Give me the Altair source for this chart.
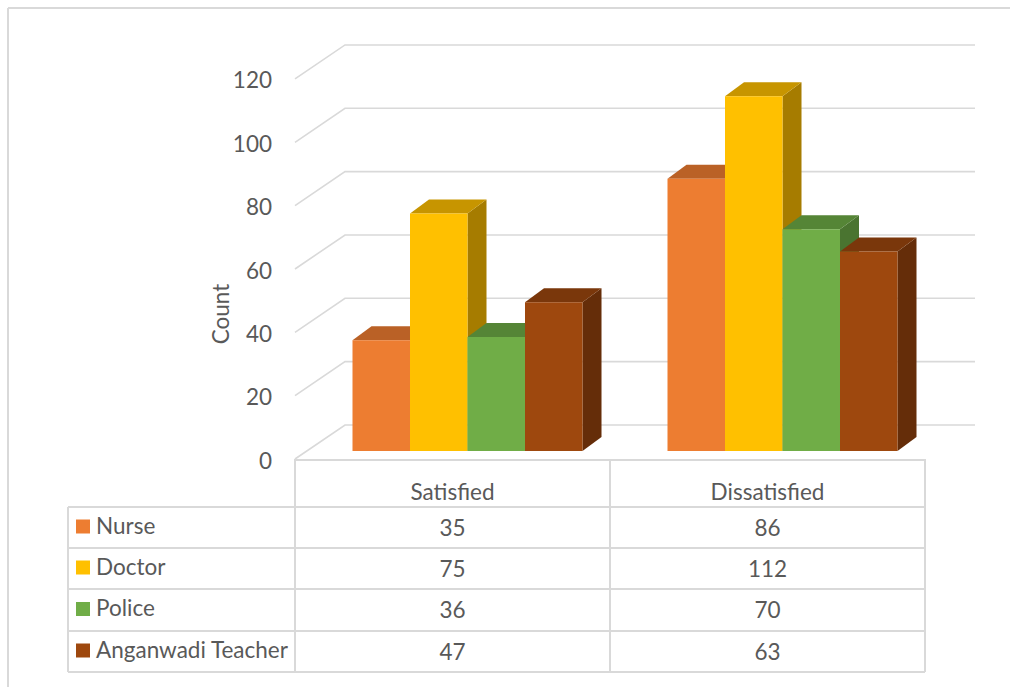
import altair as alt
import pandas as pd

# ---------------- data ----------------
categories = ["Satisfied", "Dissatisfied"]
series = ["Nurse", "Doctor", "Police", "Anganwadi Teacher"]
nurse = [35, 86]
doctor = [75, 112]
police = [36, 70]
anganwadi = [47, 63]
series_values = [nurse, doctor, police, anganwadi]
y_ticks = [0, 20, 40, 60, 80, 100, 120]

# ---------------- styles ----------------
front_colors = ["#ED7D31", "#FFC000", "#70AD47", "#9E480E"]
top_colors = ["#BA6126", "#C79500", "#558536", "#7A370B"]
side_colors = ["#9F5220", "#A67C00", "#4A7430", "#652D09"]
GRID = "#D9D9D9"
TEXT = "#595959"
FONT = "Lato"
FS = 22.5

# ---------------- layout (pixels) ----------------
W, H = 1010, 687
X0 = 295        # left edge of the first category column
COL = 315       # width of one category column
Y0 = 451        # pixel row of count 0 on the bar plane
PPC = 3.167     # pixels per count


def u(px):
    return (px - X0) / COL


def c(py):
    return (Y0 - py) / PPC


WALL_DU = u(345)            # depth shift of the back wall (x)
WALL_FRONT = c(459)         # front edge offset
WALL_BACK = c(425)          # back wall offset
BAR_DU = 19 / COL           # bar depth (x)
BAR_DC = 14 / PPC           # bar depth (y)
BAR_W = 57.5 / COL
GROUP_OFF = u(352.5)

xs = alt.Scale(domain=[u(0), u(W)], nice=False, zero=False)
ys = alt.Scale(domain=[c(H), c(0)], nice=False, zero=False)
X = lambda f: alt.X(f, type="quantitative", scale=xs, axis=None)
Y = lambda f: alt.Y(f, type="quantitative", scale=ys, axis=None)

# ---------------- bar geometry ----------------
fronts, tops, sides = [], [], []
for gi, cat in enumerate(categories):
    for si, name in enumerate(series):
        v = series_values[si][gi]
        x0 = gi + GROUP_OFF + si * BAR_W
        x1 = x0 + BAR_W
        bid = f"{cat}-{name}"
        fronts.append(dict(id=bid, x=x0, x2=x1, y=0, y2=v, fill=front_colors[si]))
        for xx, lo, hi in [(x0, v, v), (x0 + BAR_DU, v, v + BAR_DC),
                           (x1, v, v + BAR_DC), (x1 + BAR_DU, v + BAR_DC, v + BAR_DC)]:
            tops.append(dict(id=bid, x=xx, lo=lo, hi=hi, fill=top_colors[si]))
        for xx, lo, hi in [(x1, 0, v), (x1 + BAR_DU, BAR_DC, v + BAR_DC)]:
            sides.append(dict(id=bid, x=xx, lo=lo, hi=hi, fill=side_colors[si]))

front_df = pd.DataFrame(fronts)
top_df = pd.DataFrame(tops)
side_df = pd.DataFrame(sides)

side_layer = alt.Chart(side_df).mark_area(opacity=1).encode(
    x=X("x"), y=Y("lo"), y2="hi",
    color=alt.Color("fill:N", scale=None), detail="id:N")
top_layer = alt.Chart(top_df).mark_area(opacity=1).encode(
    x=X("x"), y=Y("lo"), y2="hi",
    color=alt.Color("fill:N", scale=None), detail="id:N")
front_layer = alt.Chart(front_df).mark_rect().encode(
    x=X("x"), x2="x2", y=Y("y"), y2="y2",
    color=alt.Color("fill:N", scale=None))

# ---------------- gridlines ----------------
grid_rows = []
for t in y_ticks:
    for k, (xx, yy) in enumerate([(0, t + WALL_FRONT), (WALL_DU, t + WALL_BACK),
                                  (2 + WALL_DU, t + WALL_BACK)]):
        grid_rows.append(dict(tick=t, k=k, x=xx, y=yy))
grid_layer = alt.Chart(pd.DataFrame(grid_rows)).mark_line(
    color=GRID, strokeWidth=1.6).encode(
    x=X("x"), y=Y("y"), detail="tick:N", order="k:Q")

# axis labels
lab_df = pd.DataFrame(dict(x=[u(272)] * len(y_ticks),
                           y=[t + WALL_FRONT - 0.8 for t in y_ticks],
                           t=[str(t) for t in y_ticks]))
lab_layer = alt.Chart(lab_df).mark_text(
    align="right", baseline="middle", font=FONT, fontSize=FS, color=TEXT).encode(
    x=X("x"), y=Y("y"), text="t:N")

title_layer = alt.Chart(pd.DataFrame(dict(x=[u(222)], y=[c(314)], t=["Count"]))).mark_text(
    angle=270, align="center", baseline="middle", font=FONT, fontSize=FS, color=TEXT).encode(
    x=X("x"), y=Y("y"), text="t:N")

# ---------------- frame ----------------
frame_df = pd.DataFrame([
    dict(x=u(8), x2=u(8), y=c(8), y2=c(H)),
    dict(x=u(8), x2=u(W), y=c(8), y2=c(8)),
])
frame_layer = alt.Chart(frame_df).mark_rule(color=GRID, strokeWidth=2).encode(
    x=X("x"), x2="x2", y=Y("y"), y2="y2")

# ---------------- data table ----------------
row_lines = [460, 507, 548, 589, 631, 672]
TL, TC1, TC2, TR = 68, 295, 610, 925
trules = [dict(x=u(TC1), x2=u(TR), y=c(row_lines[0]), y2=c(row_lines[0]))]
for ry in row_lines[1:]:
    trules.append(dict(x=u(TL), x2=u(TR), y=c(ry), y2=c(ry)))
trules.append(dict(x=u(TL), x2=u(TL), y=c(row_lines[1]), y2=c(row_lines[-1])))
for vx in [TC1, TC2, TR]:
    trules.append(dict(x=u(vx), x2=u(vx), y=c(row_lines[0] - 1), y2=c(row_lines[-1])))
table_rules = alt.Chart(pd.DataFrame(trules)).mark_rule(color=GRID, strokeWidth=2).encode(
    x=X("x"), x2="x2", y=Y("y"), y2="y2")

texts = []
for gi, cat in enumerate(categories):
    texts.append(dict(x=gi + 0.5, y=c(493), t=cat, a="center"))
row_centers = [(row_lines[i] + row_lines[i + 1]) / 2 for i in range(1, 5)]
for si, name in enumerate(series):
    for gi in range(len(categories)):
        texts.append(dict(x=gi + 0.5, y=c(row_centers[si] + 1), t=str(series_values[si][gi]), a="center"))
val_layer = alt.Chart(pd.DataFrame(texts)).mark_text(
    align="center", baseline="middle", font=FONT, fontSize=FS, color=TEXT).encode(
    x=X("x"), y=Y("y"), text="t:N")

name_df = pd.DataFrame(dict(x=[u(96)] * 4, y=[c(rc - 1) for rc in row_centers], t=series))
name_layer = alt.Chart(name_df).mark_text(
    align="left", baseline="middle", font=FONT, fontSize=FS, color=TEXT).encode(
    x=X("x"), y=Y("y"), text="t:N")

sw_df = pd.DataFrame(dict(x=[u(76)] * 4, x2=[u(90)] * 4,
                          y=[c(rc - 8) for rc in row_centers],
                          y2=[c(rc + 6) for rc in row_centers],
                          fill=front_colors))
sw_layer = alt.Chart(sw_df).mark_rect().encode(
    x=X("x"), x2="x2", y=Y("y"), y2="y2", color=alt.Color("fill:N", scale=None))

chart = alt.layer(
    frame_layer, grid_layer, side_layer, top_layer, front_layer,
    lab_layer, title_layer, table_rules, val_layer, name_layer, sw_layer,
).properties(
    width=W, height=H, autosize=alt.AutoSizeParams(type="none"), padding=0,
    background="white",
).configure_view(stroke=None)

chart.save("out.html", embed_options={"renderer": "svg", "actions": False})
